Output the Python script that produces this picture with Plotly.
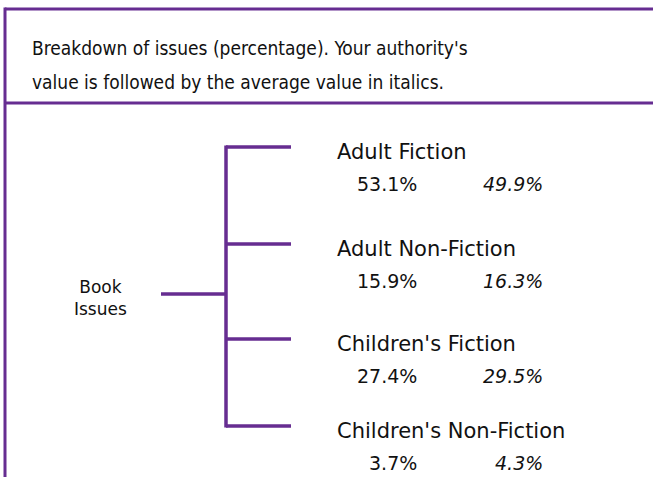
import plotly.graph_objects as go

# ---- data ----
root_label = "Book Issues"
categories = ["Adult Fiction", "Adult Non-Fiction", "Children's Fiction", "Children's Non-Fiction"]
local_values = [53.1, 15.9, 27.4, 3.7]
average_values = [49.9, 16.3, 29.5, 4.3]
title_lines = ["Breakdown of issues (percentage). Your authority's",
               "value is followed by the average value in italics."]

W, H = 653, 477
PURPLE = "#662d91"
FONT = "DejaVu Sans"
TFONT = "DejaVu Sans Condensed, DejaVu Sans"

fig = go.Figure()

# tree layout (pixel space)
branch_y = [147, 244, 339, 426]
root_y = 294
root_x0, trunk_x, leaf_x = 161, 226, 291

xs, ys = [], []
xs += [root_x0, trunk_x, None]; ys += [root_y, root_y, None]
xs += [trunk_x, trunk_x, None]; ys += [branch_y[0] - 1.5, branch_y[-1] + 1.5, None]
for y in branch_y:
    xs += [trunk_x, leaf_x, None]; ys += [y, y, None]
fig.add_trace(go.Scatter(x=xs, y=ys, mode="lines", line=dict(color=PURPLE, width=3.5),
                         hoverinfo="skip", showlegend=False))

ann = []
for cat, lv, av, y in zip(categories, local_values, average_values, branch_y):
    ann.append(dict(x=335, y=y + 5, text=cat, xanchor="left", yanchor="middle",
                    font=dict(family=FONT, size=21, color="#111")))
    ann.append(dict(x=419, y=y + 37, text=f"{lv:.1f}%", xanchor="right", yanchor="middle",
                    font=dict(family=FONT, size=19, color="#111")))
    ann.append(dict(x=545, y=y + 37, text=f"<i>{av:.1f}%</i>", xanchor="right", yanchor="middle",
                    font=dict(family=FONT, size=19, color="#111")))
ann.append(dict(x=100, y=root_y + 4, text=root_label.replace(" ", "<br>"), xanchor="center",
                yanchor="middle", align="center",
                font=dict(family=FONT, size=17, color="#111")))
for i, t in enumerate(title_lines):
    ann.append(dict(x=30, y=48 + i * 34, text=t, xanchor="left", yanchor="middle",
                    font=dict(family=TFONT, size=19, color="#111")))
for a in ann:
    a.update(xref="x", yref="y", showarrow=False)

shapes = [
    dict(type="line", x0=5, x1=W + 20, y0=9, y1=9),
    dict(type="line", x0=5, x1=W + 20, y0=103, y1=103),
    dict(type="line", x0=5, x1=5, y0=7.5, y1=H + 20),
]
for s in shapes:
    s.update(xref="x", yref="y", line=dict(color=PURPLE, width=3), layer="above")

fig.update_layout(
    width=W, height=H, margin=dict(l=0, r=0, t=0, b=0),
    paper_bgcolor="white", plot_bgcolor="white",
    xaxis=dict(range=[0, W], visible=False, fixedrange=True),
    yaxis=dict(range=[H, 0], visible=False, fixedrange=True),
    annotations=ann, shapes=shapes, showlegend=False,
)
fig.write_html("out.html", config={"displayModeBar": False},
               post_script="document.body.style.margin='0';document.body.style.overflow='hidden';")
